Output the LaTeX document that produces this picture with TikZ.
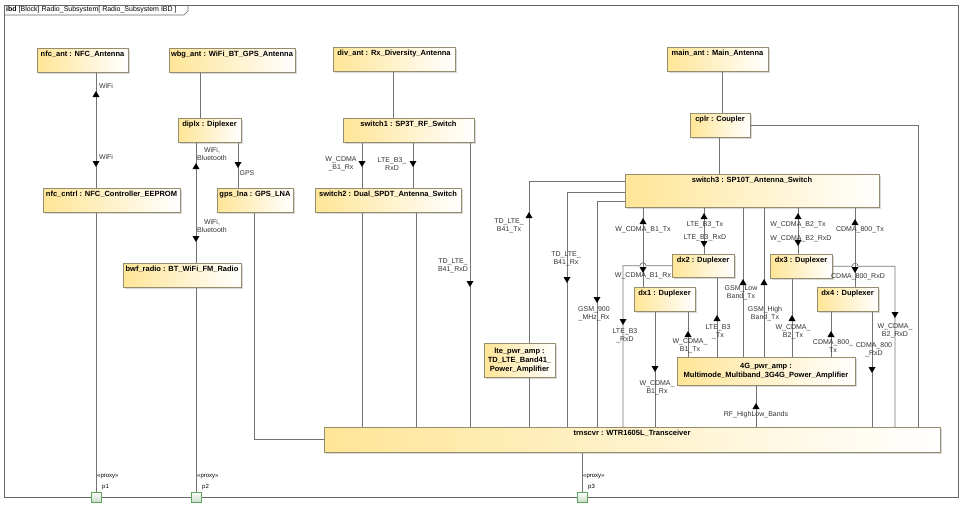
\documentclass[tikz,border=0pt]{standalone}
\usepackage{fontspec}
\setmainfont{Liberation Sans}
\usetikzlibrary{shadows}

\definecolor{blkfill}{RGB}{255,229,150}
\definecolor{blkline}{RGB}{150,140,110}
\definecolor{wiregray}{RGB}{115,115,115}
\definecolor{portline}{RGB}{95,165,95}
\definecolor{portfill}{RGB}{200,222,200}

\tikzset{
  blockbase/.style={draw=blkline, line width=0.5pt, left color=blkfill, right color=white,
    drop shadow={shadow xshift=2pt, shadow yshift=-2pt, fill=black!30},
    font=\bfseries\fontsize{7.5}{9}\selectfont, anchor=north, inner xsep=2pt, inner ysep=3pt},
  block/.style={blockbase, text height=5.5pt, text depth=12.5pt},
  wire/.style={draw=wiregray, line width=0.7pt},
  flowlbl/.style={font=\fontsize{7}{8}\selectfont, text=black!80, align=center, inner sep=0pt},
  port/.style={draw=portline, line width=0.6pt, top color=white, bottom color=portfill,
    minimum size=10pt, inner sep=0pt},
  portlbl/.style={font=\fontsize{6}{7}\selectfont, anchor=west, inner sep=0pt}
}

\begin{document}
\begin{tikzpicture}[x=1pt,y=-1pt]
\useasboundingbox (0,0) rectangle (975,520);
%\draw[help lines] (0,0) grid[step=50] (975,520);

% frame and header
\draw[draw=black!60, line width=0.7pt] (4,5) rectangle (958,497);
\draw[draw=black!60, line width=0.6pt] (4,15) -- (184,15) -- (188,11) -- (188,5);
\node[anchor=west, inner sep=0pt, font=\fontsize{7}{8}\selectfont] (hdr) at (6,10)
  {\textbf{ibd} [Block] Radio\_Subsystem[ Radio\_Subsystem IBD ]};

% parts
\node[block, minimum width=91] (nfc_ant) at (82.5,48) {nfc\_ant : NFC\_Antenna};
\node[block, minimum width=126] (wbg_ant) at (232,48) {wbg\_ant : WiFi\_BT\_GPS\_Antenna};
\node[block, minimum width=63] (diplx) at (209.5,118) {diplx : Diplexer};
\node[block, minimum width=137] (nfc_cntrl) at (111.5,188) {nfc\_cntrl : NFC\_Controller\_EEPROM};
\node[block, minimum width=76] (gps_lna) at (255,188) {gps\_lna : GPS\_LNA};
\node[block, minimum width=118] (bwf_radio) at (182,263) {bwf\_radio : BT\_WiFi\_FM\_Radio};
\node[block, minimum width=122] (div_ant) at (394,47) {div\_ant : Rx\_Diversity\_Antenna};
\node[block, minimum width=131] (switch1) at (408.5,118) {switch1 : SP3T\_RF\_Switch};
\node[block, minimum width=146] (switch2) at (388,188) {switch2 : Dual\_SPDT\_Antenna\_Switch};
\node[block, minimum width=101] (main_ant) at (717.5,47) {main\_ant : Main\_Antenna};
\node[block, minimum width=60] (cplr) at (720,113) {cplr : Coupler};
\node[block, minimum width=254, text depth=21.5pt] (switch3) at (752,174) {switch3 : SP10T\_Antenna\_Switch};
\node[block, minimum width=62, text depth=11.5pt] (dx2) at (703,254) {dx2 : Duplexer};
\node[block, minimum width=61] (dx1) at (664.5,287) {dx1 : Duplexer};
\node[block, minimum width=62] (dx3) at (801,254) {dx3 : Duplexer};
\node[block, minimum width=61] (dx4) at (847.5,287) {dx4 : Duplexer};
\node[blockbase, minimum width=71, minimum height=34, align=center] (lte_pwr_amp) at (519.5,343)
  {lte\_pwr\_amp :\\TD\_LTE\_Band41\_\\Power\_Amplifier};
\node[blockbase, minimum width=178, minimum height=28, align=center] (amp4g) at (766,357)
  {4G\_pwr\_amp :\\Multimode\_Multiband\_3G4G\_Power\_Amplifier};
\node[block, minimum width=616, text depth=13.5pt] (trnscvr) at (632,427) {trnscvr : WTR1605L\_Transceiver};

% proxy ports
\foreach \p/\x in {p1/96, p2/196, p3/582} {
  \node[port] (\p) at (\x,497) {};
  \node[portlbl] (\p-st) at ([shift={(1,-20)}]\p.center) {«proxy»};
  \node[portlbl] (\p-nm) at ([shift={(6,-10)}]\p.center) {\p};
}

% connectors, left half
\draw[wire] (nfc_ant.south -| p1) -- (nfc_cntrl.north -| p1);
\draw[wire] (nfc_cntrl.south -| p1) -- (p1.north);
\draw[wire] (wbg_ant.south -| 200,0) -- (diplx.north -| 200,0);
\draw[wire] (diplx.south -| p2) -- (bwf_radio.north -| p2);
\draw[wire] (bwf_radio.south -| p2) -- (p2.north);
\draw[wire] (diplx.south -| 238,0) -- (gps_lna.north -| 238,0);
\draw[wire] (gps_lna.south -| 254,0) |- (trnscvr.west);
\draw[wire] (div_ant.south -| 393,0) -- (switch1.north -| 393,0);
\foreach \x in {362,413}
  \draw[wire] (switch1.south -| \x,0) -- (switch2.north -| \x,0);
\foreach \x in {362,416}
  \draw[wire] (switch2.south -| \x,0) -- (trnscvr.north -| \x,0);
\draw[wire] (switch1.south -| 470,0) -- (trnscvr.north -| 470,0);

% connectors, right half
\draw[wire] (switch3.west |- 0,181) -| (lte_pwr_amp.north -| 529,0);
\draw[wire] (lte_pwr_amp.south -| 529,0) -- (trnscvr.north -| 529,0);
\foreach \y/\x in {192/567, 201/597}
  \draw[wire] (switch3.west |- 0,\y) -| (trnscvr.north -| \x,0);
\draw[wire] (main_ant.south -| 722,0) -- (cplr.north -| 722,0);
\draw[wire] (cplr.south -| 719,0) -- (switch3.north -| 719,0);
\draw[wire] (cplr.east) -| (trnscvr.north -| 918,0);
\draw[wire] (switch3.south -| 643,0) -- (dx1.north -| 643,0);
\draw[wire] (switch3.south -| 704,0) -- (dx2.north -| 704,0);
\foreach \x in {743,764}
  \draw[wire] (switch3.south -| \x,0) -- (amp4g.north -| \x,0);
\draw[wire] (switch3.south -| 798,0) -- (dx3.north -| 798,0);
\draw[wire] (switch3.south -| 855,0) -- (dx4.north -| 855,0);
\draw[wire] (dx2.west) -- (dx2.west -| 646,0) arc[start angle=0, end angle=180, radius=3pt]
  -| (trnscvr.north -| 623,0);
\draw[wire] (dx3.east) -- (dx3.east -| 852,0) arc[start angle=180, end angle=0, radius=3pt]
  -| (trnscvr.north -| 895,0);
\draw[wire] (dx1.south -| 655,0) -- (trnscvr.north -| 655,0);
\draw[wire] (dx1.south -| 688,0) -- (amp4g.north -| 688,0);
\draw[wire] (dx2.south -| 717,0) -- (amp4g.north -| 717,0);
\draw[wire] (dx3.south -| 792,0) -- (amp4g.north -| 792,0);
\draw[wire] (dx4.south -| 831,0) -- (amp4g.north -| 831,0);
\draw[wire] (dx4.south -| 872,0) -- (trnscvr.north -| 872,0);
\draw[wire] (amp4g.south -| 756,0) -- (trnscvr.north -| 756,0);
\draw[wire] (trnscvr.south -| p3) -- (p3.north);

% flow directions
\foreach \x/\y in {96/91, 196/163, 529/212, 643/218, 704/213, 743/279, 764/279, 798/213,
    855/219, 688/331, 717/315, 792/315, 831/331, 756/403}
  \fill (\x,\y) -- ++(-3.5,6) -- ++(7,0) -- cycle;
\foreach \x/\y in {96/167, 196/242, 238/168, 362/167, 413/167, 470/287, 567/283, 597/303,
    643/273, 623/325, 704/247, 798/246, 855/273, 895/318, 655/372, 872/373}
  \fill (\x,\y) -- ++(-3.5,-6) -- ++(7,0) -- cycle;

% flow labels
\foreach \x/\y/\t [count=\i] in {106/86/WiFi, 106/157/WiFi, 212/154/{WiFi,\\Bluetooth},
    212/226/{WiFi,\\Bluetooth}, 247/173/GPS, 341/164/{W\_CDMA\\\_B1\_Rx},
    392/164/{LTE\_B3\_\\RxD}, 453/266/{TD\_LTE\_\\B41\_RxD}, 509/226/{TD\_LTE\_\\B41\_Tx},
    566/259/{TD\_LTE\_\\B41\_Rx}, 594/314/{GSM\_900\\\_MHz\_Rx}, 643/230/{W\_CDMA\_B1\_Tx},
    643/276/{W\_CDMA\_B1\_Rx}, 625/336/{LTE\_B3\\\_RxD}, 705/225/{LTE\_B3\_Tx},
    705/238/{LTE\_B3\_RxD}, 741/293/{GSM\_Low\\Band\_Tx}, 765/314/{GSM\_High\\Band\_Tx},
    798/225/{W\_CDMA\_B2\_Tx}, 801/239/{W\_CDMA\_B2\_RxD}, 860/230/{CDMA\_800\_Tx},
    858/277/{CDMA\_800\_RxD}, 895/331/{W\_CDMA\_\\B2\_RxD}, 657/388/{W\_CDMA\_\\B1\_Rx},
    690/346/{W\_CDMA\_\\B1\_Tx}, 718/332/{LTE\_B3\\\_Tx}, 793/332/{W\_CDMA\_\\B2\_Tx},
    833/346/{CDMA\_800\_\\Tx}, 874/350/{CDMA\_800\\\_RxD}, 756/415/{RF\_HighLow\_Bands}}
  \node[flowlbl] (fl\i) at (\x,\y) {\t};
\end{tikzpicture}
\end{document}
